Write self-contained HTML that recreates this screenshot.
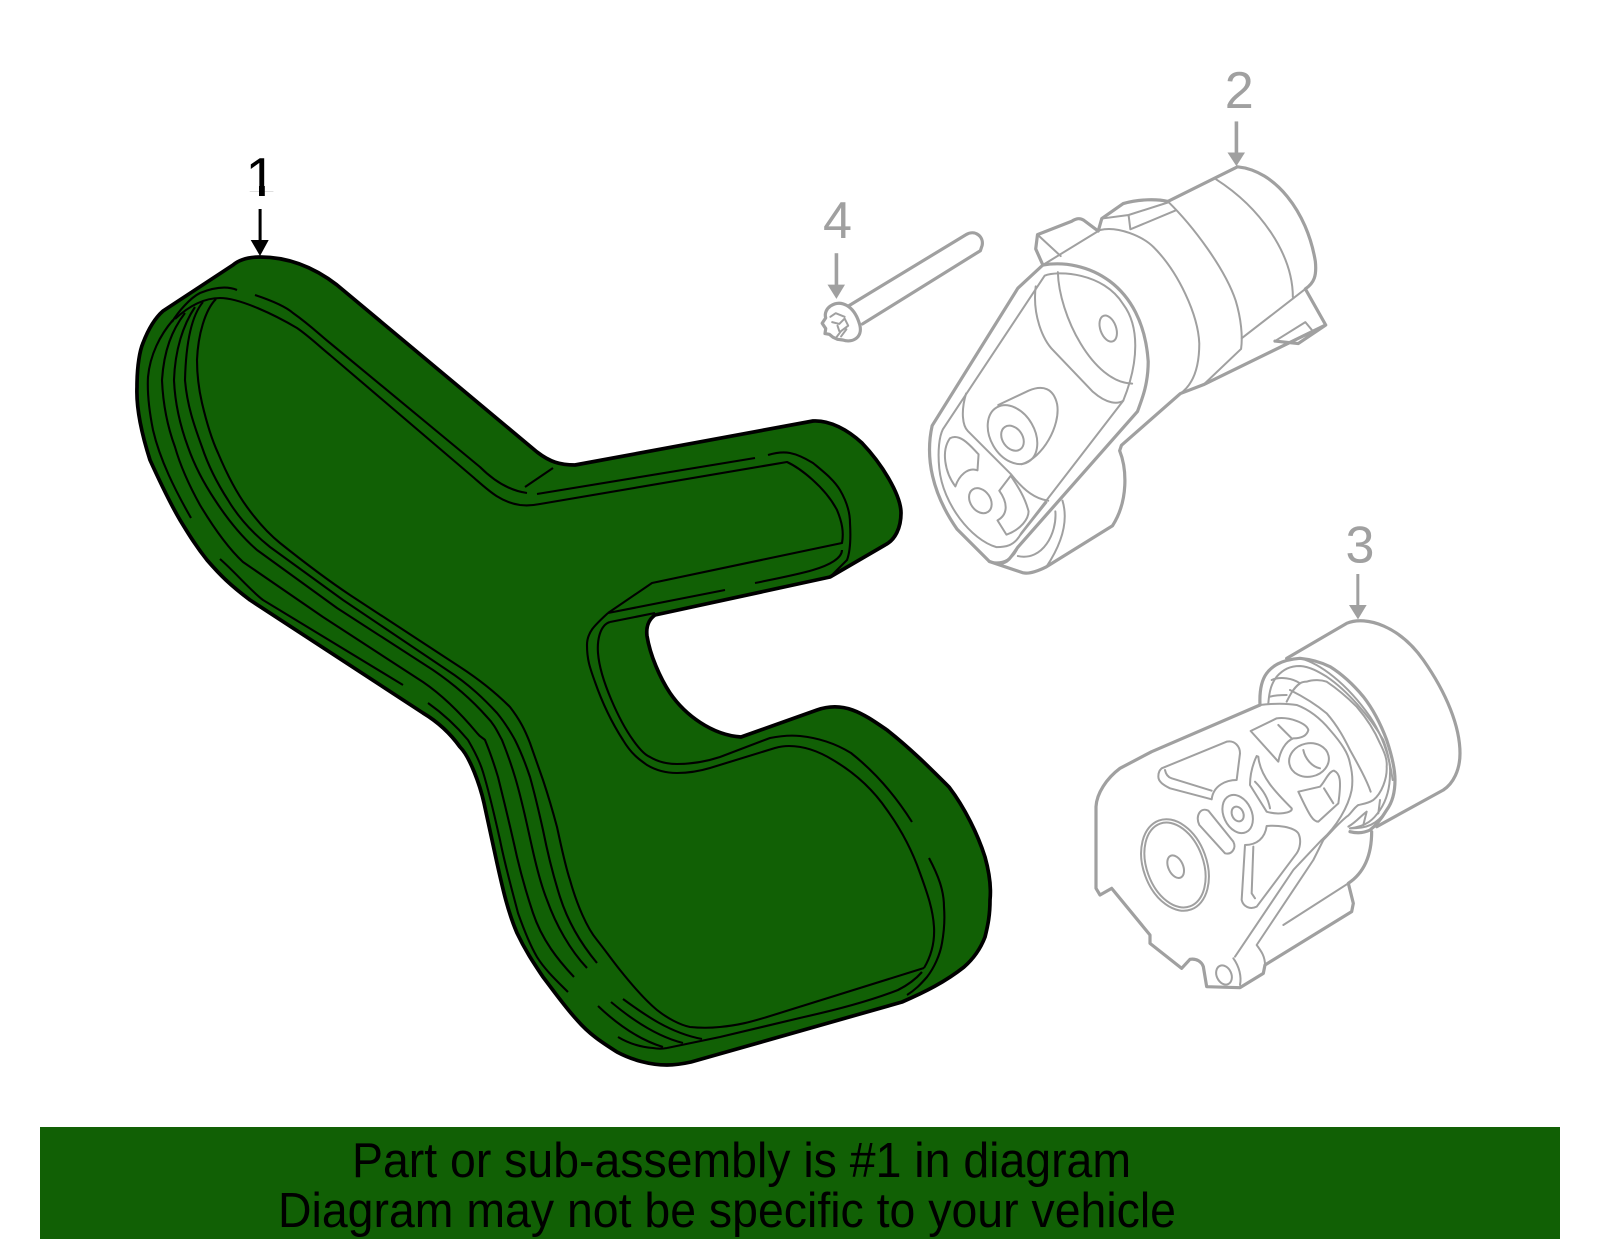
<!DOCTYPE html>
<html>
<head>
<meta charset="utf-8">
<style>
html,body{margin:0;padding:0;background:#fff}
svg{display:block}
svg *{vector-effect:non-scaling-stroke}
.o{fill:none;stroke:#000;stroke-width:2.1;stroke-linecap:butt;stroke-linejoin:round}
.g{fill:none;stroke:#a0a0a0;stroke-width:2;stroke-linecap:round;stroke-linejoin:round}
.G{fill:none;stroke:#a0a0a0;stroke-width:3.2;stroke-linecap:round;stroke-linejoin:round}
.t{font-family:"Liberation Sans",sans-serif}
</style>
</head>
<body>
<svg width="1600" height="1249" viewBox="0 0 1600 1249" xmlns="http://www.w3.org/2000/svg">
<defs><clipPath id="c1"><rect x="230" y="140" width="60" height="52"/></clipPath></defs>
<rect width="1600" height="1249" fill="#fff"/>

<!-- Belt -->
<path fill="#116005" stroke="#000" stroke-width="3.7" stroke-linejoin="round" d="M260 257 C290 257 315 268 337 285 L537 452 C550 462 560 465 575 465 L813 421 C830 420 848 430 862 443 C882 464 901 495 901 513 C901 528 895 540 885 545 L830 577 L655 615 C648 620 646 628 647 636 C650 655 660 678 670 693 C685 715 712 735 741 737 L817 710 C845 700 865 715 887 730 C910 748 930 768 949 787 C965 808 978 835 985 857 C990 875 991 890 990 900 C990 915 988 925 985 937 C980 950 972 960 964 967 C945 982 925 992 902 1002 L691 1062 C682 1064 674 1065 667 1065 C650 1065 632 1060 617 1052 C603 1043 590 1035 577 1020 C565 1007 553 990 543 977 C533 962 525 950 517 933 C508 912 503 890 497 863 L484 803 C480 785 470 757 460 747 C450 733 438 722 423 713 L250 600 C230 585 220 575 207 560 C195 545 188 533 180 520 C170 503 160 482 150 460 C142 435 136 410 137 387 C137 365 140 350 143 343 C148 330 155 318 163 311 L233 265 C240 259 250 257 260 257 Z"/>

<g class="o">
<!-- a: innermost loop -->
<path d="M216 299 C205 310 198 335 197 360 C197 375 199 390 202 403 C206 420 212 440 218 453 C226 472 236 492 247 507 C260 525 270 535 280 543 C295 555 320 575 350 595 L460 667 C480 680 498 695 510 707 C520 720 525 730 530 743 L543 780 C548 795 553 812 557 827 C561 845 565 865 570 880 C577 905 587 928 597 940 C605 950 612 960 620 970 C632 985 645 1000 657 1010 C667 1018 680 1025 690 1027 C700 1028 710 1028 720 1027 C740 1025 750 1022 767 1017 L924 968"/>
<!-- b -->
<path d="M203 302 C192 315 186 340 185 380 C187 405 194 425 202 447 C208 465 217 483 228 500 C240 520 255 535 270 547 L343 600 L447 670 C470 685 485 700 497 713 C507 725 515 740 515 740 C521 752 526 765 530 777 C535 795 539 812 543 830 C548 855 553 875 560 897 C568 922 582 945 597 963"/>
<!-- c -->
<path d="M195 307 C183 325 175 350 174 380 C175 405 181 428 188 447 C195 467 205 485 215 500 C228 520 242 537 257 550 L337 608 L433 670 C455 685 472 700 487 717 C495 725 498 733 502 740 C508 755 512 767 515 777 C522 800 527 825 532 847 C536 865 541 885 547 900 C556 925 570 950 587 968"/>
<!-- d -->
<path d="M185 313 C172 330 164 350 162 380 C163 405 168 428 175 447 C181 468 190 487 200 505 C212 525 228 548 243 562 L323 617 L423 682 C445 697 462 715 477 733 C480 737 483 738 485 740 C490 752 495 767 498 777 C505 805 511 830 517 857 C522 878 527 895 533 913 C542 940 558 960 574 977"/>
<!-- e/f/g -->
<path d="M173 320 C160 335 150 355 148 377 C147 395 150 415 153 430 C160 460 175 490 191 518"/>
<path d="M220 559 C235 572 250 590 263 600 L403 685"/>
<path d="M428 703 C445 715 458 728 468 740 C475 752 480 762 483 772 C490 795 495 818 500 840 C505 865 512 890 518 913 C524 930 530 945 537 957 C545 970 558 982 568 992"/>

<!-- top rail -->
<path d="M175 319 C190 305 205 298 220 298 C240 298 275 315 297 328 C310 337 320 347 330 355 L473 477 C488 490 500 502 520 505 C528 506 535 505 540 504 L787 462 C800 468 825 487 837 510 C842 522 844 532 842 543 L652 583 L608 613"/>
<path d="M255 295 C270 300 285 306 293 313 C310 325 320 335 330 343 L480 467 C488 475 505 490 527 493"/>
<path d="M172 322 C178 312 190 298 200 293 C210 289 225 285 237 290"/>
<path d="M525 487 L553 468"/>
<path d="M537 494 L755 458"/>
<path d="M768 455 C778 452 785 452 790 453 C800 455 808 460 813 463 C825 473 834 480 840 490 C847 502 850 512 850 523 C851 540 850 552 847 560 L830 577"/>
<path d="M755 583 C780 578 800 574 813 570 C830 565 842 558 842 550"/>
<path d="M725 590 L608 613"/>
<path d="M610 622 L655 613"/>

<!-- near rail -->
<path d="M610 622 C600 625 597 640 598 653 C600 680 620 722 633 740 C640 750 645 755 650 757 C660 763 670 764 677 764 C690 764 705 762 720 757 L770 738 C780 736 790 735 800 736 C820 738 838 745 851 753 C875 772 895 795 912 822"/>
<!-- far rail -->
<path d="M608 613 C595 625 587 632 587 645 C587 660 590 668 595 682 C602 702 612 723 623 740 C632 755 640 760 647 765 C657 771 667 773 677 773 C690 773 700 771 710 768 L775 748 C782 746 786 746 789 746 C805 746 820 752 833 760 C850 770 870 785 887 810 C900 828 912 850 920 873 C928 895 933 910 934 927 C935 945 930 958 924 968"/>

<!-- bottom right -->
<path d="M929 858 C938 875 944 890 944 907 C945 920 944 932 942 943 C940 955 934 968 927 977 C920 985 915 990 907 995"/>
<path d="M922 972 C915 980 908 985 898 990 C870 1001 840 1009 804 1017 L720 1037 L667 1048"/>
<path d="M618 1037 C628 1043 640 1047 653 1048 C658 1049 662 1049 667 1048"/>
<path d="M598 1006 C618 1025 640 1040 663 1047"/>
<path d="M611 1002 C630 1018 655 1036 683 1043"/>
<path d="M623 999 C645 1015 670 1033 702 1039"/>
</g>

<!-- Label 1 -->
<text class="t" x="245.5" y="196" font-size="55" fill="#000" clip-path="url(#c1)">1</text>
<rect x="259" y="186" width="5.8" height="10" fill="#000"/>
<g fill="#000"><rect x="258.6" y="209" width="3" height="33"/><polygon points="250.7,240 268.7,240 260,256"/></g>

<!-- Part 2 + 4 -->
<g transform="translate(800,40) scale(0.35714)">
<g class="G">
<path d="M1030 452 L1225 355 C1330 365 1420 480 1443 620 C1447 660 1440 680 1415 697 L1472 798 L1395 850 L1330 843 M1472 798 L1130 965 L1065 990 L900 1135 L895 1150 C915 1200 920 1290 875 1360 L690 1475 C660 1490 640 1495 625 1492 L530 1460"/>
<path d="M680 630 L610 695 L370 1080 C350 1170 370 1270 440 1370 L530 1460"/>
<path d="M680 630 L660 585 L665 545 L760 508 C775 498 785 498 795 505 L835 535 L845 500 L905 458 C950 445 1000 445 1030 452"/>
<path d="M680 630 C800 610 960 680 975 900 C975 960 960 1000 945 1040 L610 1420 C590 1450 580 1465 560 1465"/>
</g>
<g class="g">
<path d="M665 545 L730 605 M680 630 L840 532 M840 532 C890 520 960 550 990 580 C1060 650 1115 770 1118 850 C1118 920 1100 965 1065 990"/>
<path d="M1030 452 C1100 520 1190 640 1220 730 C1235 780 1240 830 1235 865 L1130 965"/>
<path d="M1165 390 C1290 470 1380 600 1380 720 M1415 697 L1237 835"/>
<path d="M845 500 L920 490 L1030 455 M920 490 L925 530 L1050 478 M1330 843 L1415 790 L1440 820"/>
<path d="M685 660 C720 645 850 650 905 740 C950 800 950 900 905 1010 L620 1380 C600 1420 570 1420 550 1420 C480 1400 400 1300 390 1200 C385 1150 390 1110 400 1090 L685 660 Z"/>
<path d="M660 690 C650 770 680 840 710 870 L820 985 C860 1020 890 1020 905 1010"/>
<path d="M722 650 C725 770 820 960 930 962"/>
<ellipse cx="863" cy="808" rx="22" ry="38" transform="rotate(-20 863 808)"/>
<ellipse cx="595" cy="1105" rx="62" ry="88" transform="rotate(-30 595 1105)"/>
<ellipse cx="595" cy="1115" rx="28" ry="38" transform="rotate(-35 595 1115)"/>
<path d="M555 1022 L640 982 C680 965 710 975 720 1020 C730 1080 680 1170 620 1188"/>
<path d="M465 990 C450 1040 455 1080 470 1095 L590 1215 C630 1265 660 1285 695 1290"/>
<path d="M435 1250 C405 1210 395 1150 420 1115 C450 1100 480 1140 500 1160 L497 1205 C470 1195 445 1220 435 1250 Z"/>
<ellipse cx="505" cy="1290" rx="28" ry="38" transform="rotate(-35 505 1290)"/>
<path d="M590 1220 L558 1262 C585 1300 580 1330 553 1345 L578 1385 C620 1370 640 1340 640 1320 C630 1280 610 1250 590 1220 Z"/>
<path d="M735 1290 C750 1340 740 1400 690 1475 M715 1320 C720 1380 680 1460 610 1445 M530 1460 C570 1470 600 1450 610 1420"/>
<path d="M690 1295 L618 1385"/>
</g>

<!-- bolt -->
<path class="G" d="M135 745 L465 545 C490 530 515 550 510 575 L505 590 L175 795"/>
<path class="G" d="M85 745 C115 725 150 745 165 790 C180 830 150 850 120 840 L105 838 L92 832 L82 824 L70 822 L72 808 L62 793 L72 778 C68 765 75 752 85 745 Z"/>
<path class="g" d="M85 775 L100 765 L125 775 M90 790 L110 795 L125 780 L135 800 L115 815 L100 835 M105 800 L110 815 M130 810 L115 830"/>

<text class="t" x="1230" y="190" font-size="146" text-anchor="middle" fill="#a0a0a0">2</text>
<text class="t" x="105" y="555" font-size="146" text-anchor="middle" fill="#a0a0a0">4</text>
<g fill="#a0a0a0"><rect x="1217" y="228" width="10" height="90"/><polygon points="1197,315 1246,315 1222,353"/><rect x="97" y="597" width="10" height="90"/><polygon points="77,685 126,685 102,725"/></g>
</g>

<!-- Part 3 -->
<g transform="translate(1080,520) scale(0.33333)">
<g class="G">
<path d="M620 415 L800 310 C860 285 960 320 1030 420 C1100 520 1140 620 1140 700 C1140 750 1120 790 1090 810 L890 920"/>
<path d="M540 555 C538 510 545 480 560 460 C575 440 600 420 660 415 C690 418 720 425 750 440 C790 465 825 500 850 530 C885 575 905 620 920 660 C935 705 945 745 945 780 C945 820 935 850 920 870 C905 895 890 915 870 930 C850 940 830 940 810 935"/>
<path d="M540 555 L215 695 L120 745 C80 775 50 820 48 860 L48 1105 L60 1125 L95 1105 L210 1245 L210 1270 L305 1345 L330 1318 C350 1315 365 1325 370 1340 L380 1400 L480 1403 L550 1360 L555 1335 L815 1175 L820 1150 L805 1090 C850 1060 875 1010 875 935"/>
</g>
<g class="g">
<path d="M565 550 C568 510 575 490 590 470 C610 448 630 438 660 438 C690 440 715 455 740 470 C800 510 870 590 910 660 C925 700 932 740 930 760 C930 800 920 840 900 870 C880 900 860 918 810 925"/>
<path d="M660 415 C720 430 800 490 870 590 C910 650 930 720 938 780"/>
<path d="M540 555 C580 550 620 550 650 555 C690 570 725 600 750 630 C785 670 805 700 810 730 C818 760 818 790 815 810 C805 860 770 920 725 960 L640 1050 L465 1310"/>
<path d="M640 510 C655 490 665 485 680 485 C700 478 725 480 740 485 C770 505 805 535 830 560 C860 595 885 635 900 670 C915 700 922 720 920 740 C922 775 905 820 880 840 C865 850 850 852 835 855 C820 865 810 885 800 890 C770 915 750 940 730 960 L700 1020 L530 1275 C545 1295 555 1310 555 1335"/>
<path d="M630 510 C670 530 710 555 740 580 C775 620 795 660 810 690 C835 735 860 780 872 815"/>
<path d="M575 480 C590 473 605 473 620 475 C635 477 650 483 660 490 M570 530 C585 526 605 525 620 525 M620 545 C630 525 640 505 660 490"/>
<path d="M805 920 C830 905 840 890 860 875 M850 915 L860 875 M895 880 L900 840 M810 925 C860 925 890 915 920 870"/>
<path d="M245 745 L440 665 C465 660 480 680 480 700 L470 780 C440 780 400 795 395 838 L270 805 C250 795 235 785 235 770 C235 755 240 750 245 745 Z"/>
<path d="M255 750 C258 765 265 772 275 775 L395 812"/>
<ellipse cx="285" cy="1035" rx="95" ry="142" transform="rotate(-20 285 1035)"/>
<ellipse cx="285" cy="1035" rx="85" ry="132" transform="rotate(-20 285 1035)"/>
<ellipse cx="287" cy="1040" rx="22" ry="36" transform="rotate(-25 287 1040)"/>
<path d="M358 915 C345 890 360 860 385 872 L460 965 C470 985 455 1005 435 1000 Z"/>
<ellipse cx="473" cy="882" rx="42" ry="60" transform="rotate(-25 473 882)"/>
<ellipse cx="473" cy="882" rx="17" ry="23" transform="rotate(-25 473 882)"/>
<path d="M530 708 C515 740 510 770 510 795 L560 875 C590 885 640 880 635 865 C590 820 540 770 535 710 Z"/>
<path d="M525 785 C550 810 565 835 570 865"/>
<path d="M512 633 L590 595 C630 590 680 610 685 630 C680 650 660 655 640 655 C615 665 600 695 595 725 Z"/>
<path d="M595 615 L635 655"/>
<ellipse cx="687" cy="720" rx="60" ry="50" transform="rotate(-12 687 720)"/>
<path d="M670 690 C675 715 695 740 720 745"/>
<path d="M655 815 L720 800 C735 785 745 755 762 752 C780 760 785 780 775 850 L715 905 C700 905 690 890 655 815 Z"/>
<path d="M732 805 L760 850"/>
<path d="M560 918 C590 915 640 920 655 940 C665 960 660 985 650 1000 L530 1160 C510 1170 490 1160 485 1140 L495 975 C530 975 555 955 560 918 Z"/>
<path d="M520 980 L515 1120 L525 1135"/>
<ellipse cx="432" cy="1365" rx="22" ry="30" transform="rotate(-25 432 1365)"/>
<path d="M460 1315 C478 1340 485 1370 480 1395"/>
<path d="M610 1215 L805 1090"/>
</g>
<text class="t" x="840" y="128" font-size="156" text-anchor="middle" fill="#a0a0a0">3</text>
<g fill="#a0a0a0"><rect x="829" y="162" width="9" height="95"/><polygon points="807,255 860,255 834,298"/></g>
</g>

<!-- Banner -->
<rect x="40" y="1127" width="1520" height="112" fill="#116005"/>
<text class="t" x="352" y="1177" font-size="49" fill="#000" textLength="779" lengthAdjust="spacingAndGlyphs">Part or sub-assembly is #1 in diagram</text>
<text class="t" x="278" y="1227" font-size="49" fill="#000" textLength="898" lengthAdjust="spacingAndGlyphs">Diagram may not be specific to your vehicle</text>
</svg>
</body>
</html>
